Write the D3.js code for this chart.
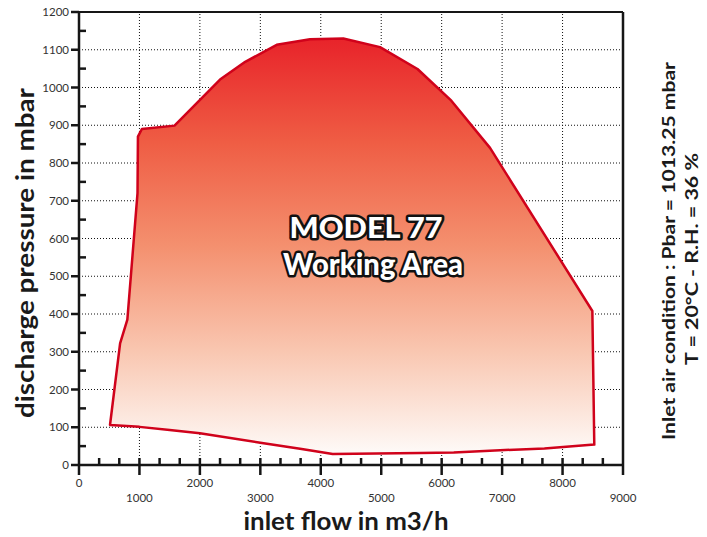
<!DOCTYPE html>
<html>
<head>
<meta charset="utf-8">
<script src="https://cdn.jsdelivr.net/npm/d3@7"></script>
<style>
  body { margin: 0; background: #fff; }
  svg { display: block; font-family: Lato, "Open Sans", sans-serif; }
</style>
</head>
<body>
<div id="chart"></div>
<script>
// working area outline, clockwise from bottom-left corner
const flow = [513, 680, 800, 968, 975, 1040, 1580, 2333, 2750, 3271, 3822, 4373, 4980, 5600, 6160, 6800, 8493,
  8525, 7700, 6966, 6200, 5642, 4197, 3657, 3000, 2000, 1500, 1000];
const pressure = [106, 322, 385, 720, 870, 890, 899, 1021, 1068, 1113, 1128, 1130, 1107, 1049, 965, 840, 408,
  54, 44, 39, 33, 32, 29, 43, 59, 84, 93, 101];

const xTicks = [0, 1000, 2000, 3000, 4000, 5000, 6000, 7000, 8000, 9000];
const yTicks = [0, 100, 200, 300, 400, 500, 600, 700, 800, 900, 1000, 1100, 1200];
const xMinor = d3.range(0, 9000, 1000 / 3).filter((d) => Math.abs(d % 1000) > 1 && Math.abs(d % 1000) < 999);
const yMinor = d3.range(50, 1200, 100);

const titleLines = ["MODEL 77", "Working Area"];
const conditionLines = ["Inlet air condition : Pbar = 1013.25 mbar", "T = 20°C - R.H. = 36 %"];

const width = 707, height = 537;
const margin = { top: 12, right: 84, bottom: 72, left: 79 };

const svg = d3.select("#chart").append("svg").attr("width", width).attr("height", height);

const x = d3.scaleLinear().domain([0, 9000]).range([margin.left, width - margin.right]);
const y = d3.scaleLinear().domain([0, 1200]).range([height - margin.bottom, margin.top]);

// gradient fill
const grad = svg.append("defs").append("linearGradient")
  .attr("id", "area-grad").attr("x1", 0).attr("y1", 0).attr("x2", 0).attr("y2", 1);
grad.selectAll("stop")
  .data([[0, "#e8232a"], [0.25, "#ef5d44"], [0.5, "#f4906f"], [0.75, "#f9c6b0"], [1, "#fefaf8"]])
  .join("stop")
  .attr("offset", (d) => d[0])
  .attr("stop-color", (d) => d[1]);

// dotted grid
svg.append("g")
  .selectAll("line")
  .data(yTicks.filter((d) => d > 0 && d < 1200))
  .join("line")
  .attr("x1", x(0)).attr("x2", x(9000))
  .attr("y1", (d) => y(d)).attr("y2", (d) => y(d))
  .attr("stroke", "#111").attr("stroke-width", 1).attr("stroke-dasharray", "1,2");
svg.append("g")
  .selectAll("line")
  .data(xTicks.filter((d) => d > 0 && d < 9000))
  .join("line")
  .attr("y1", y(0)).attr("y2", y(1200))
  .attr("x1", (d) => x(d)).attr("x2", (d) => x(d))
  .attr("stroke", "#111").attr("stroke-width", 1).attr("stroke-dasharray", "1,2");

// working area polygon
const pts = flow.map((f, i) => [x(f), y(pressure[i])]);
svg.append("path")
  .attr("d", d3.line()(pts) + "Z")
  .attr("fill", "url(#area-grad)")
  .attr("stroke", "#d0021b")
  .attr("stroke-width", 2.5)
  .attr("stroke-linejoin", "round");

// frame
const axisColor = "#161616";
svg.append("line").attr("x1", x(0)).attr("x2", x(9000)).attr("y1", y(1200)).attr("y2", y(1200))
  .attr("stroke", axisColor).attr("stroke-width", 2);
svg.append("line").attr("x1", x(9000)).attr("x2", x(9000)).attr("y1", y(1200)).attr("y2", y(0) + 10)
  .attr("stroke", axisColor).attr("stroke-width", 2.5);
svg.append("line").attr("x1", x(0)).attr("x2", x(9000)).attr("y1", y(0)).attr("y2", y(0))
  .attr("stroke", axisColor).attr("stroke-width", 2.5);
svg.append("line").attr("x1", x(0)).attr("x2", x(0)).attr("y1", y(1200)).attr("y2", y(0) + 10)
  .attr("stroke", axisColor).attr("stroke-width", 2.5);

// x ticks
svg.append("g").selectAll("line").data(xTicks.filter((d) => d > 0 && d < 9000)).join("line")
  .attr("x1", (d) => x(d)).attr("x2", (d) => x(d))
  .attr("y1", y(0) - 7).attr("y2", y(0) + 10)
  .attr("stroke", axisColor).attr("stroke-width", 2.5);
svg.append("g").selectAll("line").data(xMinor).join("line")
  .attr("x1", (d) => x(d)).attr("x2", (d) => x(d))
  .attr("y1", y(0) - 7).attr("y2", y(0))
  .attr("stroke", axisColor).attr("stroke-width", 2.5);

// y ticks
svg.append("g").selectAll("line").data(yTicks).join("line")
  .attr("x1", x(0) - 8).attr("x2", x(0))
  .attr("y1", (d) => y(d)).attr("y2", (d) => y(d))
  .attr("stroke", axisColor).attr("stroke-width", 2.5);
svg.append("g").selectAll("line").data(yMinor).join("line")
  .attr("x1", x(0)).attr("x2", x(0) + 7)
  .attr("y1", (d) => y(d)).attr("y2", (d) => y(d))
  .attr("stroke", axisColor).attr("stroke-width", 2.5);

// tick labels
svg.append("g").selectAll("text").data(xTicks).join("text")
  .attr("x", (d) => x(d))
  .attr("y", (d, i) => (i % 2 === 0 ? 487 : 502))
  .attr("text-anchor", "middle")
  .attr("font-size", 11.5)
  .attr("fill", "#333")
  .text((d) => d);
svg.append("g").selectAll("text").data(yTicks).join("text")
  .attr("x", x(0) - 10)
  .attr("y", (d) => y(d))
  .attr("dy", "0.35em")
  .attr("text-anchor", "end")
  .attr("font-size", 11.5)
  .attr("fill", "#333")
  .text((d) => d);

// axis titles
svg.append("text")
  .attr("x", 346).attr("y", 530)
  .attr("text-anchor", "middle")
  .attr("font-size", 25).attr("font-weight", 700).attr("fill", "#1a1a1a")
  .attr("textLength", 205).attr("lengthAdjust", "spacingAndGlyphs")
  .text("inlet flow in m3/h");
svg.append("text")
  .attr("transform", "translate(34,253) rotate(-90)")
  .attr("text-anchor", "middle")
  .attr("font-size", 25).attr("font-weight", 700).attr("fill", "#1a1a1a")
  .attr("textLength", 330).attr("lengthAdjust", "spacingAndGlyphs")
  .text("discharge pressure in mbar");

// conditions note
svg.append("g").selectAll("text").data(conditionLines).join("text")
  .attr("transform", (d, i) => `translate(${675 + i * 23},${i === 0 ? 251 : 259}) rotate(-90)`)
  .attr("text-anchor", "middle")
  .attr("font-size", 16.5).attr("font-weight", 700).attr("fill", "#1a1a1a")
  .attr("textLength", (d, i) => (i === 0 ? 378 : 212)).attr("lengthAdjust", "spacingAndGlyphs")
  .text((d) => d);

// label inside the area
svg.append("g").selectAll("text").data(titleLines).join("text")
  .attr("x", (d, i) => (i === 0 ? 366 : 373))
  .attr("y", (d, i) => (i === 0 ? 238 : 275))
  .attr("text-anchor", "middle")
  .attr("font-size", (d, i) => (i === 0 ? 29 : 31)).attr("font-weight", 900)
  .attr("fill", "#fff").attr("stroke", "#111").attr("stroke-width", 5)
  .attr("stroke-linejoin", "round").attr("paint-order", "stroke")
  .attr("textLength", (d, i) => (i === 0 ? 153 : 180)).attr("lengthAdjust", "spacingAndGlyphs")
  .text((d) => d);
</script>
</body>
</html>
